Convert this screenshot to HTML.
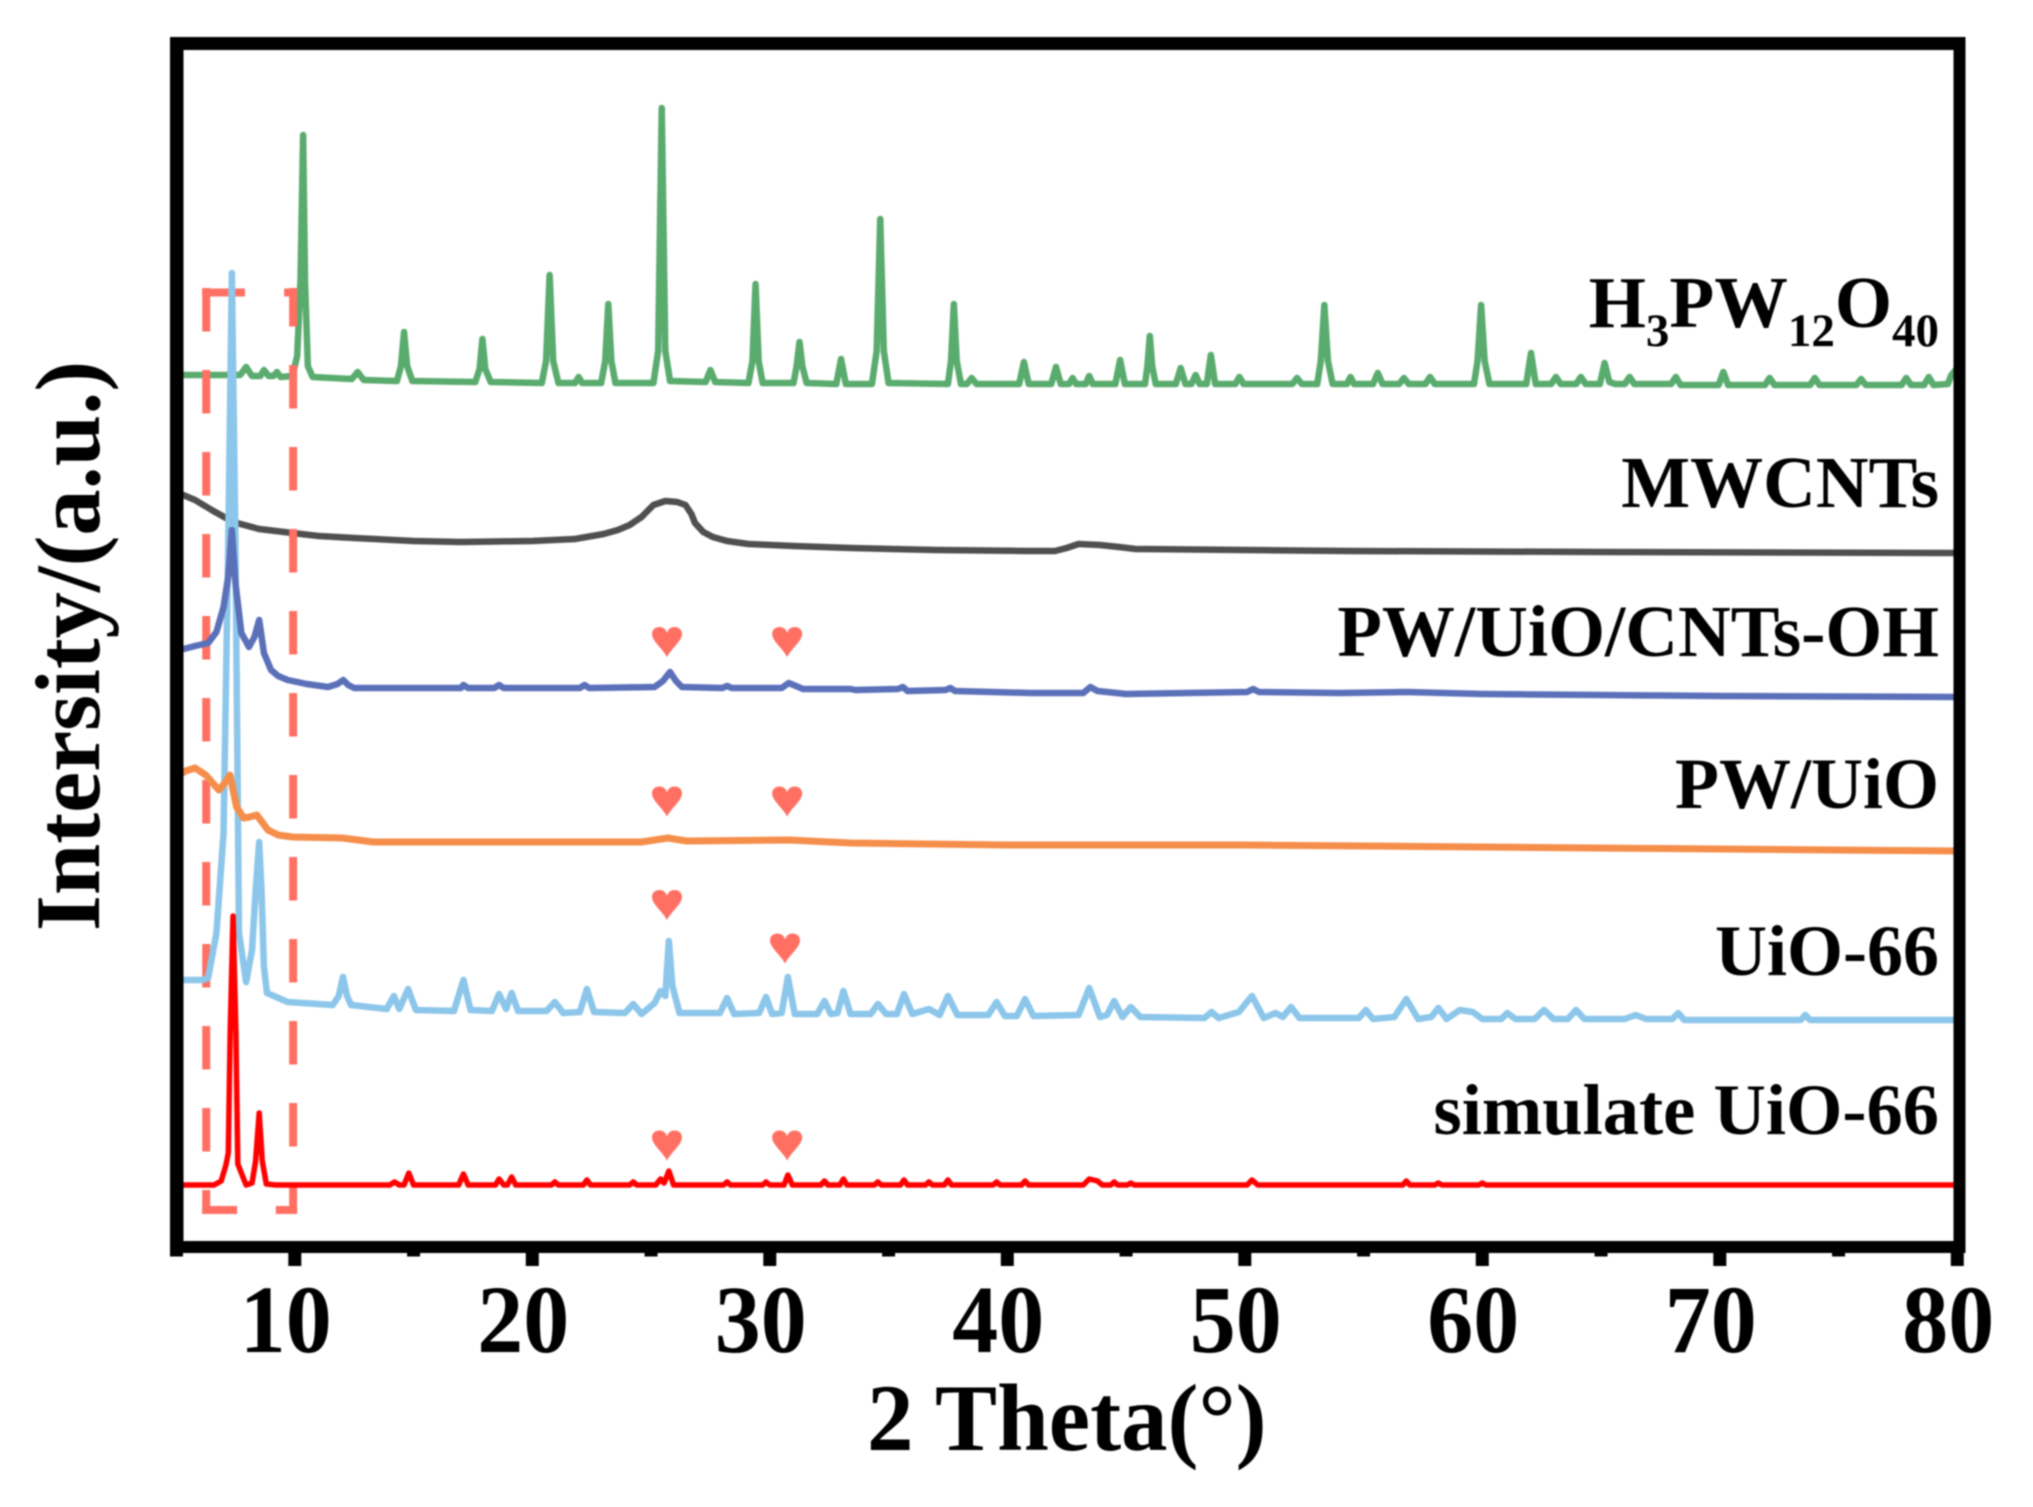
<!DOCTYPE html>
<html lang="en">
<head>
<meta charset="utf-8">
<title>XRD patterns</title>
<style>
html,body{margin:0;padding:0;background:#fff;}
svg{display:block;filter:blur(0.8px);}
text{font-family:"Liberation Serif",serif;font-weight:bold;fill:#000;}
</style>
</head>
<body>
<svg id="chart" xmlns="http://www.w3.org/2000/svg" width="2033" height="1507" viewBox="0 0 2033 1507">
<rect x="0" y="0" width="2033" height="1507" fill="#fff"/>
<g id="series-layer"></g>
<g id="frame-layer">
<rect x="170" y="37" width="13.5" height="1216" fill="#000"/>
<rect x="1953.5" y="37" width="12" height="1216" fill="#000"/>
<rect x="170" y="37" width="1795.5" height="13" fill="#000"/>
<rect x="170" y="1241" width="1795.5" height="12" fill="#000"/>
</g>
<g id="tick-layer"></g>
<text font-size="93" transform="translate(867 1450) scale(1 1.02)">2 Theta(°)</text>
<text font-size="92.5" transform="translate(99 646) rotate(-90)" text-anchor="middle">Intersity/(a.u.)</text>
<text x="1939" y="327" font-size="73.5" text-anchor="end">H<tspan font-size="47" dy="19">3</tspan><tspan dy="-19">PW</tspan><tspan font-size="47" dy="19">12</tspan><tspan dy="-19">O</tspan><tspan font-size="47" dy="19">40</tspan></text>
<text x="1939" y="507" font-size="73" text-anchor="end">MWCNTs</text>
<text x="1939" y="656" font-size="73" text-anchor="end">PW/UiO/CNTs-OH</text>
<text x="1939" y="808" font-size="72" text-anchor="end">PW/UiO</text>
<text x="1939" y="975" font-size="72" text-anchor="end">UiO-66</text>
<text x="1939" y="1134" font-size="72.5" text-anchor="end">simulate UiO-66</text>
<script>
// 2-theta (deg), intensity (a.u.) pairs
const h3pwPoints = [[5,866],[7.7,866],[7.95,874],[8.2,865],[8.55,865],[8.7,871],[8.9,865],[9.1,865],[9.25,869],[9.4,864],[9.9,865],[10.1,885],[10.24,960],[10.35,1106],[10.43,960],[10.55,875],[10.75,864],[12.4,862],[12.65,869],[12.9,861],[14.3,860],[14.47,875],[14.6,909],[14.73,875],[14.95,860],[17.6,859],[17.78,872],[17.9,902],[18.02,872],[18.25,859],[20.4,858],[20.58,880],[20.73,966],[20.88,880],[21.1,858],[21.8,858],[21.95,864],[22.1,858],[22.9,858],[23.07,880],[23.2,937],[23.33,880],[23.5,858],[25.1,858],[25.3,890],[25.45,1133],[25.6,890],[25.8,860],[27.3,859],[27.5,871],[27.7,859],[29.1,858],[29.27,880],[29.4,957],[29.53,880],[29.7,858],[31,858],[31.13,875],[31.25,899],[31.37,875],[31.55,858],[32.8,857],[33,882],[33.2,857],[34.3,857],[34.5,890],[34.65,1022],[34.8,890],[35,858],[37.5,857],[37.63,880],[37.75,937],[37.87,880],[38.05,857],[38.3,857],[38.5,863],[38.7,857],[40.5,857],[40.7,879],[40.9,857],[41.85,857],[42.05,874],[42.25,857],[42.6,857],[42.75,863],[42.9,857],[43.3,857],[43.45,865],[43.6,857],[44.55,857],[44.75,881],[44.95,857],[45.8,857],[45.9,875],[46,905],[46.1,875],[46.25,857],[47.1,857],[47.3,873],[47.5,857],[47.75,857],[47.93,866],[48.1,857],[48.4,857],[48.57,886],[48.75,857],[49.6,857],[49.77,864],[49.95,857],[52,857],[52.2,863],[52.4,857],[53.05,857],[53.2,880],[53.35,936],[53.5,880],[53.7,857],[54.3,857],[54.45,864],[54.6,857],[55.4,857],[55.6,868],[55.8,857],[56.5,857],[56.7,863],[56.9,857],[57.6,857],[57.8,864],[58,857],[59.65,857],[59.8,880],[59.95,936],[60.1,880],[60.3,857],[61.85,857],[62.05,888],[62.25,857],[62.9,857],[63.1,864],[63.3,857],[63.95,857],[64.15,864],[64.35,857],[64.95,857],[65.15,878],[65.35,859],[65.6,857],[66,857],[66.2,864],[66.4,857],[67.95,857],[68.15,864],[68.35,856],[69.95,856],[70.15,869],[70.35,856],[71.9,856],[72.1,863],[72.3,856],[73.8,856],[74,863],[74.2,856],[75.75,856],[75.95,862],[76.15,856],[77.65,856],[77.85,863],[78.05,856],[78.6,856],[78.8,864],[79,856],[79.6,857],[79.75,866],[80,873]];
const mwcntPoints = [[5,749],[5.4,745],[5.8,741],[6.5,731],[7.4,719],[8.5,712],[9.9,708],[11,705],[12.5,703],[15,700],[17,699],[20,700],[21.8,702],[23,707],[23.6,711],[24.1,716],[24.6,724],[25.1,736],[25.6,740],[26.1,739],[26.45,736],[26.7,727],[26.85,718],[27.2,709],[27.6,704],[28.2,700],[29.1,697],[31,695],[33.4,693],[37,691],[40.9,690],[42,690],[42.5,693],[43,697],[43.9,696],[44.7,694],[45.4,692],[50,691],[54.4,690],[65,689],[80,688]];
const pwUioCntPoints = [[5,590],[5.8,595],[6.35,598],[6.7,609],[7,634],[7.2,665],[7.35,711],[7.5,658],[7.75,608],[8.07,594],[8.3,604],[8.5,621],[8.7,588],[9,571],[9.3,565],[9.7,561],[10.5,557],[11.4,554],[11.8,557],[12.04,561],[12.25,556],[12.5,553],[15,553],[17,553],[17.1,556],[17.3,553],[18.4,553],[18.6,556],[18.8,553],[22,553],[22.2,556],[22.4,553],[25.15,554],[25.5,560],[25.8,569],[26.05,560],[26.3,554],[28,553],[28.2,555],[28.4,553],[30.5,553],[30.8,558],[31.4,552],[33.4,552],[33.6,551],[35.4,552],[35.6,554],[35.8,550],[37.4,551],[37.6,553],[37.8,550],[41,548],[43.2,548],[43.5,554],[43.8,550],[45,547],[50.1,549],[50.35,552],[50.6,549],[54,548],[56.8,549],[60,547],[65,546],[70,545],[80,544]];
const pwUioPoints = [[5,464],[5.4,470],[5.8,473],[6.25,466],[6.8,451],[7.05,458],[7.27,466],[7.55,434],[7.85,423],[8.1,424],[8.4,426],[8.87,411],[9.3,406],[9.9,404],[12,403],[13.3,399],[18,399],[24.6,399],[25.7,403],[26.5,400],[30.8,401],[33.4,398],[40,396],[50,396],[60,394],[70,392],[80,390]];
const uio66Points = [[5,261],[6.1,261],[6.35,263],[6.7,308],[7,408],[7.2,700],[7.35,968],[7.5,700],[7.65,308],[7.95,259],[8.2,291],[8.35,350],[8.5,399],[8.6,350],[8.7,274],[8.83,248],[9.7,239],[11.6,236],[11.85,245],[12.03,264],[12.2,245],[12.37,236],[13.87,232],[14.17,245],[14.4,232],[14.77,252],[15.1,231],[16.7,230],[17.1,261],[17.4,231],[18.3,230],[18.6,247],[18.9,232],[19.13,248],[19.4,230],[20.6,230],[20.95,239],[21.3,228],[22,229],[22.3,252],[22.6,229],[23.9,228],[24.25,237],[24.6,227],[25.15,238],[25.4,250],[25.6,245],[25.75,300],[25.9,255],[26.2,228],[27.9,228],[28.2,243],[28.5,227],[29.55,228],[29.84,244],[30.1,227],[30.5,228],[30.76,264],[31.05,227],[32,227],[32.3,240],[32.57,227],[32.85,228],[33.1,250],[33.4,227],[34.25,227],[34.55,237],[34.9,227],[35.35,227],[35.65,247],[36,227],[36.7,232],[37.15,226],[37.5,245],[37.9,226],[39.2,226],[39.55,239],[39.9,225],[40.4,225],[40.75,242],[41.1,225],[43,226],[43.45,253],[43.9,224],[44.2,226],[44.5,240],[44.85,224],[45.2,234],[45.6,224],[48.3,223],[48.6,229],[48.9,223],[49.75,229],[50.3,245],[50.8,223],[51.3,228],[51.6,224],[51.95,234],[52.3,223],[54.8,223],[55.1,231],[55.4,222],[56.3,224],[56.8,242],[57.3,222],[57.85,224],[58.15,233],[58.5,222],[59.05,231],[59.6,229],[60,222],[60.8,222],[61.05,228],[61.4,222],[62.2,222],[62.6,231],[63,222],[63.6,222],[63.95,231],[64.3,222],[66,222],[66.45,226],[66.9,222],[68,222],[68.25,228],[68.5,221],[73.4,221],[73.6,226],[73.8,221],[80,221]];
const simulatePoints = [[5,56],[6.6,56],[6.9,60],[7.1,76],[7.2,88],[7.28,209],[7.4,325],[7.52,209],[7.6,77],[7.95,56],[8.2,58],[8.35,80],[8.5,128],[8.63,80],[8.8,57],[9.2,56],[14,56],[14.2,59],[14.4,56],[14.6,56],[14.8,68],[15,56],[16.9,56],[17.1,67],[17.3,56],[18.45,56],[18.6,62],[18.8,56],[18.95,56],[19.13,64],[19.3,56],[20.8,56],[20.95,59],[21.1,56],[22.15,56],[22.3,61],[22.45,56],[24.1,56],[24.25,59],[24.4,56],[25.2,56],[25.4,62],[25.55,58],[25.75,70],[25.95,56],[28.05,56],[28.2,59],[28.35,56],[29.7,56],[29.84,59],[30,56],[30.6,56],[30.76,66],[30.95,56],[32.15,56],[32.3,60],[32.45,56],[32.95,56],[33.1,62],[33.25,56],[34.4,56],[34.55,59],[34.7,56],[35.5,56],[35.65,61],[35.8,56],[36.55,56],[36.7,59],[36.85,56],[37.35,56],[37.5,61],[37.65,56],[39.4,56],[39.55,59],[39.7,56],[40.6,56],[40.75,60],[40.9,56],[43.2,56],[43.45,62],[43.8,60],[44,56],[44.35,56],[44.5,59],[44.65,56],[45.05,56],[45.2,58],[45.35,56],[50.1,56],[50.3,61],[50.55,56],[56.65,56],[56.8,60],[56.95,56],[58,56],[58.15,58],[58.3,56],[59.85,56],[60,58],[60.15,56],[80,56]];
const xMajorTicks = [10,20,30,40,50,60,70,80];
const xMinorTicks = [5,15,25,35,45,55,65,75];
const xTickLabels = ["10","20","30","40","50","60","70","80"];
const heartThetas = [25.67,30.73,25.67,30.73,25.67,30.64,25.67,30.73];
const heartIntensities = [599,599,439.5,439.5,336,292.5,95.5,95.5];
const boxThetaLeft = 6.27;
const boxThetaRight = 9.93;
const boxIntensityTop = 948.5;
const boxIntensityBottom = 31;
const boxIntensityVTop = 953;
const boxIntensityVBottom = 28;
const boxTopLeftEnd = 7.9;
const boxTopRightStart = 9.55;
const boxBottomLeftEnd = 7.57;
const boxBottomRightStart = 9.2;

const NS = 'http://www.w3.org/2000/svg';
function xScale(theta){ return 294.8 + (theta - 10) * 23.75; }
function yScale(intensity){ return 1241 - intensity; }
function pathFrom(points){
  return points.map(function(p,i){ return (i ? 'L' : 'M') + xScale(p[0]).toFixed(2) + ' ' + yScale(p[1]).toFixed(2); }).join(' ');
}
const seriesLayer = document.getElementById('series-layer');
const tickLayer = document.getElementById('tick-layer');

function drawSeries(points, color, width, name){
  const el = document.createElementNS(NS,'path');
  el.setAttribute('d', pathFrom(points));
  el.setAttribute('fill','none');
  el.setAttribute('stroke',color);
  el.setAttribute('stroke-width',width);
  el.setAttribute('stroke-linejoin','round');
  
  
  seriesLayer.appendChild(el);
}
function drawBoxSeg(t1,i1,t2,i2,dashed,offset){
  const el = document.createElementNS(NS,'line');
  el.setAttribute('x1',xScale(t1));
  el.setAttribute('y1',yScale(i1));
  el.setAttribute('x2',xScale(t2));
  el.setAttribute('y2',yScale(i2));
  el.setAttribute('stroke','#ff7063');
  el.setAttribute('stroke-width','8');
  if(dashed){
    el.setAttribute('stroke-dasharray','43.5 38.5');
    el.setAttribute('stroke-dashoffset',offset);
  }
  
  
  seriesLayer.appendChild(el);
}

drawSeries(h3pwPoints,'#5aab6e',6.5,'series-h3pw12o40');
drawSeries(mwcntPoints,'#4f4f4f',6.5,'series-mwcnts');
drawBoxSeg(boxThetaLeft,boxIntensityVTop,boxThetaLeft,boxIntensityVBottom,true,0);
drawBoxSeg(boxThetaRight,boxIntensityVTop,boxThetaRight,boxIntensityVBottom,true,5);
drawBoxSeg(boxThetaLeft-0.17,boxIntensityTop,boxTopLeftEnd,boxIntensityTop,false,0);
drawBoxSeg(boxTopRightStart,boxIntensityTop,boxThetaRight+0.17,boxIntensityTop,false,0);
drawBoxSeg(boxThetaLeft-0.17,boxIntensityBottom,boxBottomLeftEnd,boxIntensityBottom,false,0);
drawBoxSeg(boxBottomRightStart,boxIntensityBottom,boxThetaRight+0.17,boxIntensityBottom,false,0);
drawSeries(uio66Points,'#8cc6ea',6.5,'series-uio-66');
drawSeries(pwUioCntPoints,'#5a70b9',6.5,'series-pw-uio-cnts-oh');
drawSeries(pwUioPoints,'#f58e4b',7,'series-pw-uio');
drawSeries(simulatePoints,'#ff0000',5.5,'series-simulate-uio-66');

heartThetas.forEach(function(theta,i){
  const el = document.createElementNS(NS,'path');
  el.setAttribute('d','M0,15 C-4,7 -15,-1 -15,-8 C-15,-13 -11,-15 -7.5,-15 C-4,-15 -1,-13 0,-9 C1,-13 4,-15 7.5,-15 C11,-15 15,-13 15,-8 C15,-1 4,7 0,15 Z');
  el.setAttribute('transform','translate(' + xScale(theta) + ' ' + yScale(heartIntensities[i]) + ')');
  el.setAttribute('fill','#ff7063');
  
  
  seriesLayer.appendChild(el);
});

xMajorTicks.forEach(function(theta,i){
  const tick = document.createElementNS(NS,'rect');
  tick.setAttribute('x',Math.min(xScale(theta)-6.5,1952.5));
  tick.setAttribute('y',1253);
  tick.setAttribute('width',13);
  tick.setAttribute('height',13);
  tick.setAttribute('fill','#000');
  
  
  tickLayer.appendChild(tick);
  const label = document.createElementNS(NS,'text');
  label.setAttribute('transform','translate(' + (xScale(theta)-9) + ' 1352) scale(1 1.05)');
  label.setAttribute('text-anchor','middle');
  label.setAttribute('font-size','92');
  label.textContent = xTickLabels[i];
  
  
  tickLayer.appendChild(label);
});
xMinorTicks.forEach(function(theta){
  const tick = document.createElementNS(NS,'rect');
  tick.setAttribute('x',Math.max(xScale(theta)-6.5,170));
  tick.setAttribute('y',1253);
  tick.setAttribute('width',13);
  tick.setAttribute('height',3.5);
  tick.setAttribute('fill','#000');
  
  
  tickLayer.appendChild(tick);
});
</script>
</svg>
</body>
</html>
